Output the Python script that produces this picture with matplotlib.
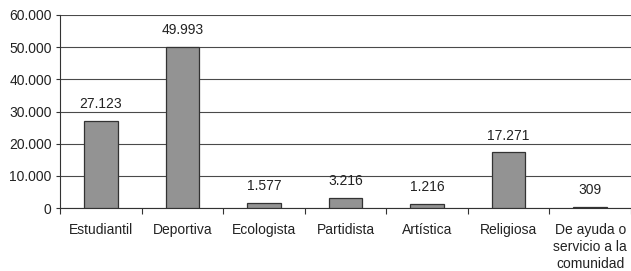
import matplotlib
matplotlib.use("Agg")
import matplotlib.pyplot as plt

categorias = ["Estudiantil", "Deportiva", "Ecologista", "Partidista", "Artística",
              "Religiosa", "De ayuda o\nservicio a la\ncomunidad"]
valores = [27123, 49993, 1577, 3216, 1216, 17271, 309]
etiquetas = ["27.123", "49.993", "1.577", "3.216", "1.216", "17.271", "309"]
yticks = [0, 10000, 20000, 30000, 40000, 50000, 60000]
yticklabels = ["0", "10.000", "20.000", "30.000", "40.000", "50.000", "60.000"]

plt.rcParams['font.family'] = ['Liberation Sans', 'DejaVu Sans']
plt.rcParams['font.size'] = 10

fig = plt.figure(figsize=(6.31, 2.71), dpi=100)
ax = fig.add_axes([60 / 631, 1 - 208 / 271, 571 / 631, 193 / 271])

x = range(len(categorias))
bars = ax.bar(x, valores, width=0.41, color="#939393", edgecolor="#333333",
              linewidth=0.9, zorder=3)
for b, t in zip(bars, etiquetas):
    ax.annotate(t, (b.get_x() + b.get_width() / 2, b.get_height()),
                xytext=(0, 7), textcoords="offset points",
                ha="center", va="bottom", color="#222222")

ax.set_xlim(-0.5, len(categorias) - 0.5)
ax.set_ylim(0, 60000)
ax.set_yticks(yticks)
ax.set_yticklabels(yticklabels)
ax.yaxis.grid(True, color="#4a4a4a", linewidth=0.8, zorder=0)

ax.set_xticks([i + 0.5 for i in range(-1, len(categorias))], minor=False)
ax.set_xticklabels([])
ax.set_xticks(list(x), minor=True)
ax.set_xticklabels(categorias, minor=True, linespacing=1.25, va="top")
ax.tick_params(axis="x", which="minor", length=0, pad=11)
ax.tick_params(axis="x", which="major", length=4, direction="out", color="#333333")
ax.tick_params(axis="y", length=3, color="#333333", pad=3)
for lbl in ax.get_xticklabels(minor=True) + ax.get_yticklabels():
    lbl.set_color("#222222")

for s in ["top", "right"]:
    ax.spines[s].set_visible(False)
ax.spines["left"].set_color("#333333")
ax.spines["bottom"].set_color("#333333")

fig.savefig("out.png", dpi=100)
